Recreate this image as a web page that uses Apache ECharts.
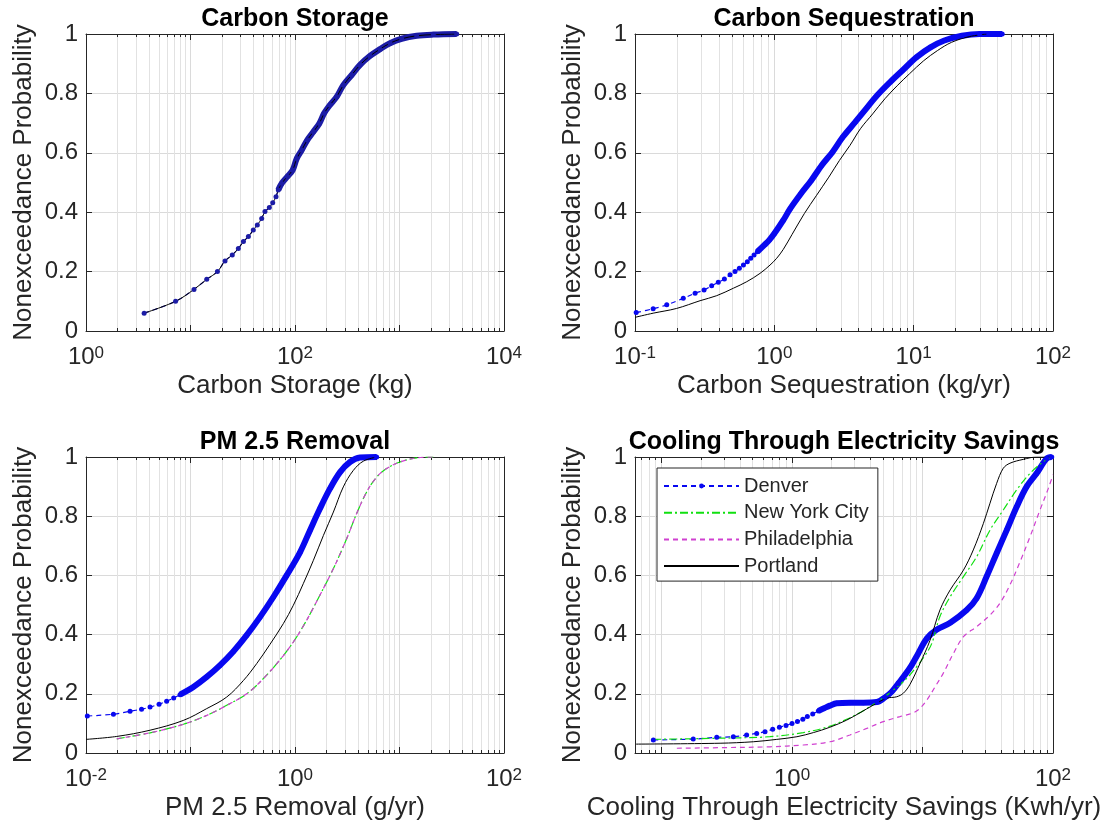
<!doctype html>
<html>
<head>
<meta charset="utf-8">
<script src="https://cdn.jsdelivr.net/npm/echarts@6/dist/echarts.min.js"></script>
<style>
  html, body { margin: 0; padding: 0; background: #fff; }
  #main { width: 1109px; height: 835px; }
</style>
</head>
<body>
<div id="main"></div>
<script>
// values: [x, nonexceedance probability]
var cities = ['Denver', 'New York City', 'Philadelphia', 'Portland'];

// Carbon storage (kg) - Denver and Portland lie on the same curve
var storageDenver = [[3.6, 0.06], [7.2, 0.10], [10.8, 0.14], [14.3, 0.174], [18.1, 0.20], [21.4, 0.236],
    [25.1, 0.256], [28.7, 0.278], [32.1, 0.301], [35.8, 0.318], [39.9, 0.34], [43.6, 0.357], [48, 0.379],
    [51.6, 0.402], [56.8, 0.416], [61.2, 0.432], [65.8, 0.452], [69.2, 0.475], [74.6, 0.497], [84.5, 0.52],
    [95, 0.542], [104, 0.581], [116, 0.609], [131, 0.643], [150, 0.671], [171, 0.699], [190, 0.733],
    [216, 0.761], [251, 0.789], [290, 0.828], [349, 0.862], [419, 0.896], [522, 0.926], [651, 0.949],
    [811, 0.969], [1049, 0.984], [1460, 0.994], [2107, 0.998], [3525, 1.0]];
var storagePortland = storageDenver;

// Carbon sequestration (kg/yr)
var seqDenver = [[0.102, 0.062], [0.135, 0.075], [0.169, 0.088], [0.222, 0.110], [0.270, 0.127],
    [0.313, 0.138], [0.355, 0.152], [0.396, 0.164], [0.438, 0.175], [0.481, 0.189], [0.522, 0.200],
    [0.561, 0.211], [0.600, 0.222], [0.640, 0.233], [0.677, 0.245], [0.715, 0.256], [0.755, 0.267],
    [0.85, 0.29], [0.919, 0.306], [1.0, 0.328], [1.16, 0.373], [1.30, 0.412], [1.55, 0.462], [1.84, 0.507],
    [2.19, 0.558], [2.61, 0.602], [3.10, 0.653], [3.80, 0.703], [4.66, 0.754], [5.54, 0.796], [6.78, 0.838],
    [8.30, 0.877], [10.5, 0.922], [13.2, 0.955], [16.6, 0.978], [22.2, 0.994], [29.7, 1.0], [43.2, 1.0]];
var seqPortland = [[0.1, 0.046], [0.135, 0.060], [0.199, 0.076], [0.293, 0.102], [0.386, 0.119],
    [0.508, 0.144], [0.634, 0.166], [0.789, 0.194], [0.931, 0.222], [1.04, 0.245], [1.16, 0.275],
    [1.34, 0.325], [1.64, 0.395], [2.01, 0.457], [2.46, 0.518], [2.93, 0.574], [3.49, 0.625], [4.15, 0.681],
    [5.08, 0.731], [6.22, 0.782], [7.62, 0.826], [9.33, 0.866], [11.8, 0.910], [14.8, 0.944], [18.7, 0.972],
    [25.0, 0.991], [33.3, 1.0]];

// PM 2.5 removal (g/yr)
var pmDenver = [[0.0103, 0.125], [0.0183, 0.131], [0.0264, 0.141], [0.034, 0.148], [0.041, 0.155],
    [0.05, 0.165], [0.0591, 0.175], [0.069, 0.186], [0.0794, 0.197], [0.1065, 0.223], [0.143, 0.257],
    [0.191, 0.296], [0.257, 0.343], [0.345, 0.398], [0.462, 0.459], [0.621, 0.527], [0.832, 0.600],
    [1.12, 0.679], [1.39, 0.752], [1.73, 0.825], [2.16, 0.893], [2.70, 0.949], [3.36, 0.983], [4.19, 0.998],
    [6.04, 1.0]];
var pmNewYork = [[0.0197, 0.048], [0.041, 0.068], [0.0853, 0.097], [0.143, 0.127], [0.222, 0.161],
    [0.345, 0.200], [0.497, 0.251], [0.718, 0.315], [0.964, 0.375], [1.29, 0.448], [1.73, 0.533],
    [2.33, 0.623], [3.12, 0.724], [3.89, 0.809], [4.85, 0.882], [6.04, 0.932], [7.53, 0.961], [10.1, 0.983],
    [14.6, 0.997], [21.1, 1.0]];
var pmPhiladelphia = [[0.0197, 0.048], [0.041, 0.068], [0.0853, 0.097], [0.143, 0.127], [0.222, 0.161],
    [0.345, 0.200], [0.497, 0.251], [0.718, 0.315], [0.964, 0.375], [1.29, 0.448], [1.73, 0.533],
    [2.33, 0.623], [3.12, 0.724], [3.89, 0.809], [4.85, 0.882], [6.04, 0.932], [7.53, 0.961], [10.1, 0.983],
    [14.6, 0.997], [21.1, 1.0]];
var pmPortland = [[0.01, 0.046], [0.0197, 0.056], [0.041, 0.077], [0.0853, 0.110], [0.143, 0.150],
    [0.222, 0.189], [0.321, 0.245], [0.430, 0.302], [0.576, 0.367], [0.773, 0.437], [0.964, 0.499],
    [1.20, 0.572], [1.50, 0.651], [1.87, 0.735], [2.33, 0.814], [2.90, 0.899], [3.62, 0.955], [4.51, 0.986],
    [6.04, 1.0]];

// Cooling through electricity savings (Kwh/yr)
var coolDenver = [[0.0865, 0.044], [0.175, 0.047], [0.265, 0.053], [0.355, 0.055], [0.449, 0.061],
    [0.536, 0.066], [0.621, 0.072], [0.711, 0.080], [0.800, 0.087], [0.899, 0.093], [1.0, 0.100],
    [1.10, 0.106], [1.21, 0.114], [1.31, 0.123], [1.44, 0.132], [1.59, 0.142], [1.76, 0.151], [1.95, 0.160],
    [2.20, 0.168], [2.78, 0.170], [3.52, 0.170], [4.46, 0.172], [5.16, 0.188], [5.81, 0.207], [6.53, 0.235],
    [7.34, 0.264], [8.26, 0.297], [9.29, 0.337], [10.8, 0.387], [12.8, 0.416], [16.3, 0.440], [21.8, 0.483],
    [26.0, 0.523], [31.0, 0.596], [37.0, 0.675], [44.2, 0.753], [52.7, 0.832], [62.8, 0.900], [75.0, 0.945],
    [89.5, 0.995], [97.8, 1.0]];
var coolNewYork = [[0.0865, 0.046], [0.281, 0.050], [0.678, 0.055], [1.22, 0.069], [1.84, 0.087],
    [2.62, 0.114], [3.52, 0.143], [4.72, 0.179], [5.98, 0.213], [7.57, 0.252], [9.03, 0.292], [10.5, 0.331],
    [11.8, 0.371], [13.6, 0.461], [16.3, 0.528], [20.6, 0.596], [26.0, 0.663], [32.9, 0.753], [41.6, 0.821],
    [52.7, 0.889], [66.7, 0.945], [84.3, 0.984], [97.8, 1.0]];
var coolPhiladelphia = [[0.131, 0.016], [0.281, 0.018], [0.678, 0.021], [1.22, 0.027], [1.95, 0.038],
    [2.78, 0.061], [3.74, 0.083], [5.01, 0.106], [6.72, 0.123], [8.51, 0.136], [9.57, 0.151], [10.8, 0.179],
    [12.5, 0.224], [14.4, 0.269], [17.2, 0.335], [20.6, 0.393], [26.0, 0.427], [32.9, 0.466], [39.2, 0.506],
    [46.8, 0.568], [55.9, 0.646], [66.7, 0.731], [79.5, 0.821], [92.1, 0.894], [100, 0.94]];
var coolPortland = [[0.0638, 0.030], [0.281, 0.033], [0.505, 0.038], [0.764, 0.046], [1.09, 0.055],
    [1.46, 0.069], [1.95, 0.087], [2.62, 0.111], [3.32, 0.136], [4.20, 0.162], [5.32, 0.185], [6.34, 0.190],
    [7.13, 0.202], [8.02, 0.232], [9.57, 0.303], [11.4, 0.38], [13.6, 0.483], [16.3, 0.551], [20.6, 0.618],
    [24.5, 0.686], [29.3, 0.776], [32.9, 0.844], [37.0, 0.911], [41.6, 0.962], [46.8, 0.979], [59.2, 0.992],
    [75, 1.0], [100, 1.0]];

var yTicks = [0, 0.2, 0.4, 0.6, 0.8, 1];

var FONT = 'Liberation Sans, Arial, Helvetica, sans-serif';
var INK = '#262626';

// layout of the four panels (cooling first so the legend picks its styles)
var panels = [
    { title: 'Cooling Through Electricity Savings', xName: 'Cooling Through Electricity Savings (Kwh/yr)',
      left: 635, top: 457, height: 296, min: 0.0626, max: 100, evenOnly: true, denverColor: '#0808f0',
      denver: coolDenver, bandFrom: 15, nyc: coolNewYork, phila: coolPhiladelphia, portland: coolPortland },
    { title: 'Carbon Storage', xName: 'Carbon Storage (kg)',
      left: 86, top: 34, height: 297, min: 1, max: 10000, evenOnly: true, denverColor: '#1c1ca6',
      denver: storageDenver, bandFrom: 17, portland: storagePortland },
    { title: 'Carbon Sequestration', xName: 'Carbon Sequestration (kg/yr)',
      left: 635, top: 34, height: 297, min: 0.1, max: 100, evenOnly: false, denverColor: '#0808f0',
      denver: seqDenver, bandFrom: 16, portland: seqPortland },
    { title: 'PM 2.5 Removal', xName: 'PM 2.5 Removal (g/yr)',
      left: 86, top: 457, height: 296, min: 0.01, max: 100, evenOnly: true, denverColor: '#0808f0',
      denver: pmDenver, bandFrom: 8, nyc: pmNewYork, phila: pmPhiladelphia, portland: pmPortland }
];

function logLabel(evenOnly) {
    return function (v) {
        var e = Math.log10(v), r = Math.round(e);
        if (Math.abs(e - r) > 1e-6) return '';
        if (evenOnly && r % 2 !== 0) return '';
        return '{b|10}{s|' + r + '}';
    };
}

var grids = [], xAxes = [], yAxes = [], titles = [], series = [];

panels.forEach(function (p, i) {
    grids.push({ left: p.left, top: p.top, width: 418, height: p.height, containLabel: false });
    titles.push({
        text: p.title, left: p.left + 209, top: p.top - 27, textAlign: 'center', padding: 0,
        textStyle: { fontFamily: FONT, fontSize: 25, fontWeight: 'bold', color: '#000' }
    });

    var frameLine = { show: true, onZero: false, lineStyle: { color: INK, width: 1 } };
    xAxes.push({
        type: 'log', logBase: 10, gridIndex: i, position: 'bottom', min: p.min, max: p.max,
        axisLine: frameLine,
        axisTick: { show: true, inside: true, length: 6, lineStyle: { color: INK } },
        minorTick: { show: true, splitNumber: 9, length: 3, lineStyle: { color: INK } },
        splitLine: { show: true, lineStyle: { color: '#dadada' } },
        minorSplitLine: { show: true, lineStyle: { color: '#e2e2e2' } },
        axisLabel: {
            formatter: logLabel(p.evenOnly), margin: 14, color: INK, showMinLabel: true, showMaxLabel: true,
            rich: {
                b: { fontFamily: FONT, fontSize: 24, lineHeight: 24, padding: [7, 0, 0, 0], verticalAlign: 'bottom', color: INK },
                s: { fontFamily: FONT, fontSize: 17, lineHeight: 17, verticalAlign: 'top', color: INK }
            }
        },
        name: p.xName, nameLocation: 'middle', nameGap: 42,
        nameTextStyle: { fontFamily: FONT, fontSize: 26, color: INK }
    });
    xAxes.push({
        type: 'log', logBase: 10, gridIndex: i, position: 'top', min: p.min, max: p.max,
        axisLine: frameLine,
        axisTick: { show: true, inside: true, length: 6, lineStyle: { color: INK } },
        minorTick: { show: true, splitNumber: 9, length: 3, lineStyle: { color: INK } },
        axisLabel: { show: false }, splitLine: { show: false }
    });
    yAxes.push({
        type: 'value', gridIndex: i, position: 'left', min: 0, max: 1, interval: 0.2,
        axisLine: frameLine,
        axisTick: { show: true, inside: true, length: 6, lineStyle: { color: INK } },
        splitLine: { show: true, lineStyle: { color: '#dadada' } },
        axisLabel: {
            margin: 8, color: INK, fontFamily: FONT, fontSize: 24,
            formatter: function (v) { return yTicks.indexOf(v) >= 0 ? String(v) : ''; }
        },
        name: 'Nonexceedance Probability', nameLocation: 'middle', nameGap: 49,
        nameTextStyle: { fontFamily: FONT, fontSize: 26, color: INK }
    });
    yAxes.push({
        type: 'value', gridIndex: i, position: 'right', min: 0, max: 1, interval: 0.2,
        axisLine: frameLine,
        axisTick: { show: true, inside: true, length: 6, lineStyle: { color: INK } },
        axisLabel: { show: false }, splitLine: { show: false }
    });

    var base = { type: 'line', xAxisIndex: 2 * i, yAxisIndex: 2 * i, smooth: 0.35,
                 animation: false, silent: true, z: 3 };
    series.push(Object.assign({}, base, {
        name: 'Denver', data: p.denver, symbol: 'circle', symbolSize: 5,
        itemStyle: { color: p.denverColor },
        lineStyle: { color: p.denverColor, width: 1.2, type: [5, 4] }
    }));
    series.push(Object.assign({}, base, {
        name: 'Denver', data: p.denver.slice(p.bandFrom), symbol: 'none',
        lineStyle: { color: p.denverColor, width: 6 }
    }));
    if (p.nyc) {
        series.push(Object.assign({}, base, {
            name: 'New York City', data: p.nyc, symbol: 'none', itemStyle: { color: '#10e010' },
            lineStyle: { color: '#10e010', width: 1.2, type: [8, 3, 2, 3] }
        }));
    }
    if (p.phila) {
        series.push(Object.assign({}, base, {
            name: 'Philadelphia', data: p.phila, symbol: 'none', itemStyle: { color: '#d040d0' },
            lineStyle: { color: '#d040d0', width: 1.2, type: [5, 4] }
        }));
    }
    series.push(Object.assign({}, base, {
        name: 'Portland', data: p.portland, symbol: 'none', itemStyle: { color: '#000' },
        lineStyle: { color: '#000', width: 1 }
    }));
});

var chart = echarts.init(document.getElementById('main'), null, { renderer: 'canvas' });
chart.setOption({
    animation: false,
    backgroundColor: '#fff',
    textStyle: { fontFamily: FONT },
    title: titles,
    grid: grids,
    xAxis: xAxes,
    yAxis: yAxes,
    legend: {
        data: [
            { name: cities[0] },
            { name: cities[1], itemStyle: { opacity: 0 } },
            { name: cities[2], itemStyle: { opacity: 0 } },
            { name: cities[3], itemStyle: { opacity: 0 } }
        ],
        orient: 'vertical', left: 657, top: 468, selectedMode: false,
        padding: [8, 9, 5, 6], itemGap: 6.7, itemWidth: 75, itemHeight: 6,
        backgroundColor: '#fff', borderColor: INK, borderWidth: 1,
        textStyle: { fontFamily: FONT, fontSize: 20, lineHeight: 20, color: INK }
    },
    series: series
});
</script>
</body>
</html>
